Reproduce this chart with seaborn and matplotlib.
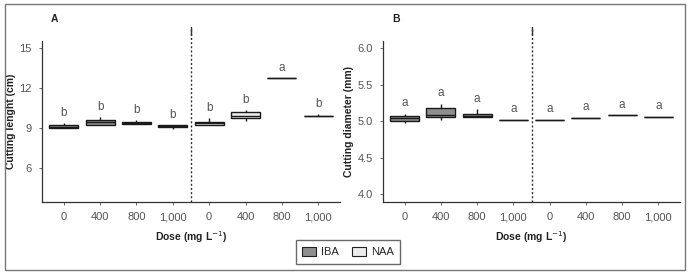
#!/usr/bin/env python3

import matplotlib.pyplot as plt
import matplotlib.patches as mpatches
import numpy as np
import pandas as pd
import seaborn as sns

sns.set_style("ticks")
plt.rcParams['font.family'] = ['Liberation Sans Narrow', 'Liberation Sans', 'DejaVu Sans']

doses = ["0", "400", "800", "1,000"]
hormones = ["IBA", "NAA"]

# five values per box: min, q1, median, q3, max
length_iba = [[9.00, 9.00, 9.10, 9.22, 9.37],
              [9.24, 9.24, 9.43, 9.62, 9.83],
              [9.32, 9.32, 9.40, 9.47, 9.55],
              [8.92, 9.07, 9.13, 9.19, 9.19]]
length_naa = [[9.22, 9.22, 9.35, 9.47, 9.72],
              [9.52, 9.72, 9.92, 10.17, 10.36],
              [12.75, 12.75, 12.75, 12.75, 12.75],
              [9.85, 9.85, 9.85, 9.85, 10.03]]
length_letters = ["b", "b", "b", "b", "b", "b", "a", "b"]

diam_iba = [[4.98, 5.00, 5.045, 5.077, 5.10],
            [5.01, 5.054, 5.09, 5.18, 5.24],
            [5.054, 5.054, 5.077, 5.10, 5.16],
            [5.02, 5.02, 5.02, 5.02, 5.02]]
diam_naa = [[5.02, 5.02, 5.02, 5.02, 5.02],
            [5.045, 5.045, 5.045, 5.045, 5.045],
            [5.085, 5.085, 5.085, 5.085, 5.085],
            [5.06, 5.06, 5.06, 5.06, 5.06]]
diam_letters = ["a"] * 8

colors = {"IBA": "#8f8f8f", "NAA": "#ececec"}
gray = "#555555"


def make_df(iba, naa):
    rows = []
    for hormone, vals in zip(hormones, [iba, naa]):
        for dose, obs in zip(doses, vals):
            for v in obs:
                rows.append({"group": hormone + " " + dose, "hormone": hormone, "value": v})
    return pd.DataFrame(rows)


order = [h + " " + d for h in hormones for d in doses]


def plot_panel(ax, iba, naa, letters, ylim, yticks, ytlabels, ylabel, pad, tag):
    df = make_df(iba, naa)
    sns.boxplot(ax=ax, data=df, x="group", y="value", hue="hormone", order=order,
                hue_order=hormones, palette=colors, dodge=False, width=0.8,
                whis=(0, 100), linewidth=1.0, linecolor="#1a1a1a", showcaps=False,
                legend=False)
    tops = df.groupby("group")["value"].max()
    for i, g in enumerate(order):
        ax.text(i, tops[g] + pad, letters[i], ha="center", va="bottom",
                fontsize=8.5, color=gray)
    ax.plot([3.5, 3.5], [0, 1.09], transform=ax.get_xaxis_transform(),
            color="#333333", lw=1, ls=(0, (1.5, 1.5)), clip_on=False)
    ax.plot([3.5, 3.5], [1.037, 1.09], transform=ax.get_xaxis_transform(),
            color="#333333", lw=1, clip_on=False)
    ax.set_xlim(-0.6, 7.6)
    ax.set_ylim(*ylim)
    ax.set_yticks(yticks)
    ax.set_yticklabels(ytlabels)
    ax.set_xticks(range(8))
    ax.set_xticklabels(doses * 2)
    ax.set_xlabel("Dose (mg L$^{-1}$)", fontsize=7.5, fontweight="bold",
                  color="#222222", labelpad=5)
    ax.set_ylabel(ylabel, fontsize=7.5, fontweight="bold", color="#222222", labelpad=2)
    ax.tick_params(axis="both", labelsize=8, colors=gray, length=2.5, width=0.6,
                   labelcolor=gray, pad=5)
    sns.despine(ax=ax)
    for s in ["left", "bottom"]:
        ax.spines[s].set_color("#333333")
        ax.spines[s].set_linewidth(0.9)
    ax.text(0.03, 1.12, tag, transform=ax.transAxes, fontsize=7.5,
            fontweight="bold", color="#222222")


fig = plt.figure(figsize=(6.89, 2.74), dpi=100)
ax0 = fig.add_axes([42 / 689, 1 - 202 / 274, 298 / 689, 161 / 274])
ax1 = fig.add_axes([383 / 689, 1 - 202 / 274, 297 / 689, 161 / 274])

plot_panel(ax0, length_iba, length_naa, length_letters, (3.45, 15.5),
           [6, 9, 12, 15], ["6", "9", "12", "15"], "Cutting lenght (cm)", 0.3, "A")
plot_panel(ax1, diam_iba, diam_naa, diam_letters, (3.89, 6.1),
           [4.0, 4.5, 5.0, 5.5, 6.0], ["4.0", "4.5", "5.0", "5.5", "6.0"],
           "Cutting diameter (mm)", 0.06, "B")

handles = [mpatches.Patch(facecolor=colors[h], edgecolor="#222222", lw=0.8, label=h)
           for h in hormones]
fig.legend(handles=handles, loc="center", bbox_to_anchor=(348 / 689, 1 - 252 / 274),
           ncol=2, fontsize=8, frameon=True, fancybox=False, edgecolor="#444444",
           handlelength=1.2, handleheight=0.9, handletextpad=0.5, columnspacing=1.2,
           borderpad=0.6)

fig.patches.append(mpatches.Rectangle((5 / 689, 4 / 274), 680 / 689, 266 / 274,
                                      transform=fig.transFigure, fill=False,
                                      edgecolor="#777777", lw=1))

fig.savefig("out.png", dpi=100)
